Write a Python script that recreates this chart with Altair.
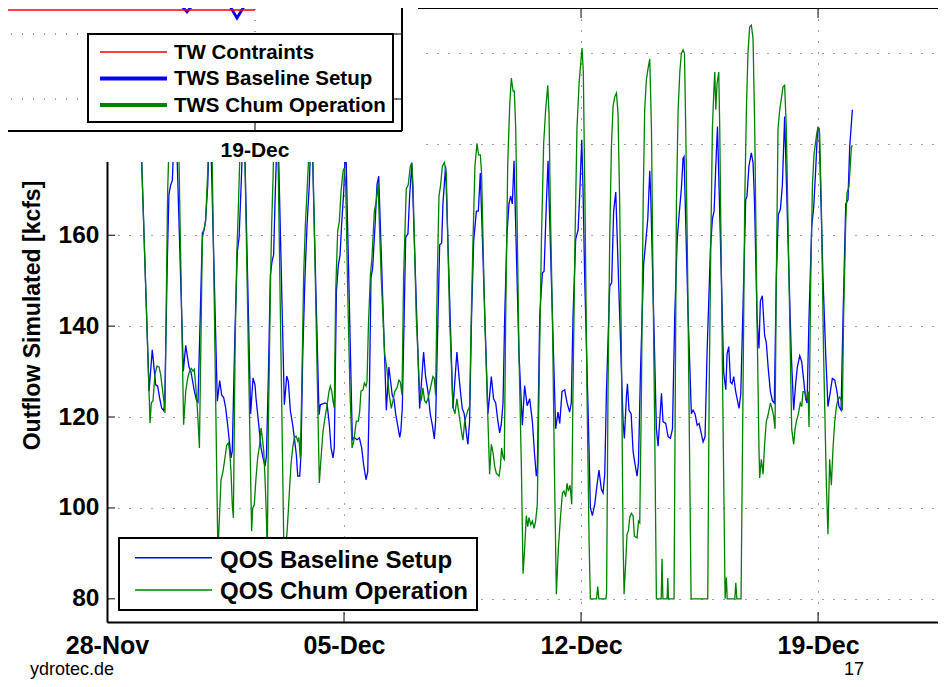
import altair as alt
import pandas as pd

FONT = "Liberation Sans"
START = pd.Timestamp("2012-11-28 00:00:00")

# (hours after 28-Nov 00:00, outflow in kcfs)
baseline_points = [
    (24.3, 179.0), (29.8, 125.7), (32.1, 134.8), (34.5, 127.1), (35.9, 126.8), (37.3, 124.2), (38.7, 122.0), (40.2, 121.4), (40.9, 123.1), (42.8, 155.0), (43.9, 169.0), (45.1, 171.0), (46.3, 172.0), (48.5, 190.0),
    (54.1, 130.1), (55.8, 135.8), (58.1, 131.0), (59.5, 130.0), (61.9, 125.7), (63.3, 123.8), (64.5, 123.3), (67.6, 160.5), (68.8, 161.2), (69.9, 163.4), (71.4, 171.0), (73.0, 188.0),
    (78.2, 123.5), (79.9, 128.0), (81.3, 124.8), (82.7, 124.3), (84.1, 122.0), (85.5, 118.3), (87.0, 113.9), (87.9, 111.0), (88.8, 112.5), (90.7, 138.9), (92.4, 156.5), (93.6, 159.4), (95.0, 170.4), (97.0, 188.0),
    (101.8, 120.7), (103.5, 128.6), (104.9, 127.1), (105.6, 124.2), (107.3, 119.1), (109.2, 113.2), (110.6, 111.0), (112.0, 109.2), (113.0, 111.4), (114.4, 129.3), (115.8, 151.3), (117.0, 154.3), (118.1, 155.7), (119.3, 169.7), (121.0, 186.0),
    (125.7, 122.7), (127.4, 129.0), (128.5, 127.9), (130.0, 121.3), (131.6, 118.3), (132.8, 115.4), (134.2, 111.7), (135.2, 107.0), (136.6, 107.0), (137.5, 111.7), (138.7, 133.0), (140.3, 150.6), (141.8, 162.3), (143.4, 171.2), (145.0, 186.0),
    (150.3, 120.5), (151.2, 122.7), (152.9, 122.9), (154.5, 123.1), (156.0, 122.9), (157.6, 118.3), (158.8, 113.2), (160.2, 111.0), (161.1, 113.2), (162.6, 147.7), (164.0, 153.5), (165.2, 155.7), (166.3, 162.3), (167.8, 169.7), (169.2, 181.0),
    (173.9, 115.0), (175.3, 115.5), (177.2, 115.0), (178.9, 115.4), (180.5, 113.2), (181.9, 109.5), (183.6, 106.2), (184.8, 108.0), (186.0, 125.7), (187.1, 150.6), (188.3, 152.8), (190.0, 162.3), (191.4, 171.2), (192.6, 173.0),
    (198.0, 121.5), (199.8, 131.0), (202.2, 124.8), (203.4, 124.0), (204.6, 120.7), (206.0, 118.2), (207.5, 115.5), (208.3, 117.0), (209.3, 122.0), (210.2, 135.5), (211.7, 159.5), (213.3, 160.3), (214.5, 168.6), (216.1, 175.8),
    (221.6, 121.9), (224.4, 134.3), (225.8, 128.9), (227.5, 125.6), (229.1, 120.7), (230.6, 118.2), (232.0, 115.2), (232.9, 119.0), (234.6, 142.1), (235.8, 157.9), (237.2, 158.3), (238.1, 166.9), (240.0, 175.2),
    (245.2, 121.9), (248.0, 134.3), (249.5, 128.9), (250.7, 125.0), (251.8, 121.9), (253.2, 120.7), (254.7, 116.5), (255.8, 114.0), (257.0, 119.0), (258.4, 142.1), (259.9, 158.7), (261.8, 165.3), (263.2, 165.3), (264.6, 173.7),
    (270.0, 120.7), (272.4, 128.9), (274.0, 124.0), (275.5, 123.1), (277.1, 119.0), (278.3, 116.5), (279.5, 118.5), (280.7, 123.1), (281.9, 142.1), (283.5, 160.3), (284.9, 166.9), (286.1, 168.6), (287.3, 166.9), (288.5, 176.4),
    (290.1, 157.0), (292.0, 133.9), (294.4, 118.2), (296.0, 126.9), (297.8, 122.5), (299.6, 124.0), (301.5, 119.0), (303.1, 111.6), (304.3, 107.0), (305.0, 108.5), (306.7, 142.1), (308.6, 151.7), (309.8, 152.1), (311.4, 166.9), (312.6, 176.4),
    (315.7, 142.1), (318.0, 117.4), (319.7, 121.1), (320.9, 118.6), (322.5, 125.6), (324.4, 126.0), (326.1, 123.1), (327.9, 121.1), (329.1, 123.1), (330.3, 142.1), (332.2, 159.1), (333.9, 161.2), (335.0, 168.6), (336.5, 181.0),
    (337.4, 170.2), (338.6, 150.4), (341.0, 121.5), (342.6, 100.0), (344.0, 98.3), (345.7, 100.8), (347.3, 105.0), (348.7, 108.3), (350.4, 104.1), (351.6, 103.3), (352.8, 107.4), (354.0, 125.6), (356.3, 148.8), (357.7, 149.6), (359.1, 165.3), (360.6, 169.5),
    (363.4, 142.1), (365.8, 119.0), (366.7, 115.3), (368.2, 124.8), (368.9, 127.3), (370.0, 121.5), (371.5, 120.7), (372.9, 112.4), (374.3, 109.5), (375.7, 107.0), (376.7, 109.9), (378.1, 129.8), (380.4, 153.7), (381.9, 158.7), (383.3, 163.6), (384.7, 174.2),
    (385.4, 168.6), (387.5, 142.1), (389.4, 117.4), (390.6, 113.6), (393.0, 125.2), (394.1, 119.0), (396.0, 118.6), (397.7, 115.7), (399.3, 115.3), (400.8, 117.4), (402.4, 142.1), (404.1, 158.7), (405.5, 164.5), (407.1, 170.2), (408.3, 176.9), (409.0, 177.3),
    (411.9, 142.1), (414.2, 120.7), (415.4, 121.5), (416.8, 120.7), (418.3, 118.2), (419.7, 118.6), (421.1, 116.5), (422.5, 114.5), (423.9, 115.7), (425.3, 133.9), (427.7, 157.0), (429.1, 163.6), (430.3, 165.3), (431.5, 175.2), (432.7, 183.9),
    (435.5, 150.4), (437.1, 129.8), (438.6, 126.0), (439.5, 133.9), (440.7, 135.5), (441.9, 127.7), (443.0, 127.3), (444.2, 128.9), (445.6, 125.6), (448.0, 121.9), (449.2, 125.0), (451.3, 150.4), (452.7, 167.8), (453.6, 168.6), (455.0, 175.2), (456.7, 178.1), (457.9, 176.0),
    (459.0, 166.9), (460.7, 142.1), (462.1, 135.1), (463.1, 145.5), (464.5, 146.7), (466.1, 138.0), (467.3, 136.4), (468.7, 130.6), (470.2, 125.6), (471.6, 123.6), (473.0, 123.1), (474.4, 150.4), (475.8, 164.5), (477.3, 165.7), (478.7, 171.1), (480.3, 186.1),
    (482.7, 158.7), (485.0, 133.9), (486.7, 121.5), (488.1, 127.3), (489.3, 131.0), (491.0, 133.5), (492.4, 132.2), (493.8, 128.1), (495.2, 124.0), (496.2, 123.1), (497.6, 142.1), (499.5, 162.0), (500.9, 166.1), (502.3, 174.4), (503.7, 183.5), (504.7, 183.5),
    (507.5, 150.4), (509.4, 133.9), (511.0, 122.3), (512.7, 125.6), (514.1, 128.5), (515.8, 128.1), (517.4, 125.6), (518.8, 122.3), (520.3, 121.5), (521.7, 142.1), (523.6, 166.9), (525.2, 167.8), (526.4, 179.3), (528.3, 187.6),
]

chum_points = [
    (24.3, 179.0), (30.5, 118.7), (31.4, 123.1), (32.6, 123.6), (34.0, 129.4), (35.4, 131.2), (36.9, 131.0), (38.0, 129.4), (39.2, 126.4), (40.6, 122.7), (41.1, 120.9), (42.1, 147.7), (43.0, 169.7), (45.0, 192.0), (50.5, 186.0),
    (54.3, 118.3), (55.8, 125.7), (57.2, 128.6), (58.6, 130.1), (59.8, 130.7), (61.0, 130.1), (61.9, 130.5), (62.8, 127.1), (63.8, 123.1), (64.7, 118.3), (65.5, 113.2), (66.4, 133.0), (67.6, 159.4), (68.8, 161.2), (69.9, 163.1), (71.4, 174.1), (73.0, 190.0), (74.5, 178.0),
    (78.6, 90.0), (80.8, 106.1), (82.2, 108.0), (83.6, 111.0), (84.8, 113.8), (86.0, 114.3), (86.9, 112.5), (87.9, 108.0), (88.8, 100.7), (89.6, 97.8), (90.7, 133.0), (91.9, 155.0), (93.1, 166.0), (94.0, 175.6), (95.5, 190.0), (97.8, 176.0),
    (102.5, 94.9), (103.3, 100.0), (104.4, 100.7), (105.6, 106.6), (106.8, 111.0), (108.2, 113.9), (109.2, 117.6), (110.1, 115.4), (111.1, 112.5), (112.0, 106.6), (113.0, 97.8), (113.6, 89.0), (114.4, 118.3), (115.8, 147.7), (116.7, 162.3), (117.7, 172.6), (119.0, 192.0), (121.2, 178.0),
    (125.6, 86.0), (128.0, 96.5), (129.3, 103.7), (130.4, 109.5), (131.6, 113.2), (132.8, 115.4), (134.0, 115.8), (135.2, 114.7), (136.0, 115.5), (137.0, 111.0), (138.0, 125.7), (139.4, 151.3), (140.6, 162.3), (141.8, 169.7), (142.7, 175.6), (144.0, 188.0), (146.0, 176.0),
    (150.5, 105.5), (151.7, 111.0), (153.1, 116.9), (154.5, 119.8), (156.0, 122.7), (157.4, 125.7), (158.3, 126.8), (159.3, 125.7), (160.2, 123.5), (161.1, 122.0), (162.1, 147.7), (163.5, 160.9), (164.7, 163.1), (165.9, 169.7), (167.3, 174.1), (168.2, 174.8), (169.2, 171.2),
    (170.6, 147.7), (172.2, 125.7), (173.7, 113.2), (174.9, 114.7), (175.8, 116.9), (176.7, 119.1), (178.2, 119.1), (179.1, 121.3), (180.0, 125.7), (181.5, 126.0), (182.4, 127.5), (183.6, 126.8), (184.3, 127.9), (185.3, 140.3), (186.7, 151.3), (187.8, 155.0), (189.5, 165.3), (190.9, 167.5), (192.1, 171.5),
    (194.4, 150.4), (196.8, 133.9), (198.4, 130.6), (200.0, 125.0), (201.5, 121.9), (202.7, 123.6), (203.9, 125.6), (205.5, 126.4), (206.9, 128.1), (207.9, 127.7), (209.1, 124.8), (210.2, 150.4), (212.1, 170.2), (213.5, 171.1), (215.0, 175.2), (216.1, 176.0), (216.9, 171.1),
    (219.2, 142.1), (221.6, 125.6), (222.8, 123.6), (223.9, 126.4), (225.1, 123.6), (226.3, 123.1), (227.5, 124.0), (228.7, 125.6), (231.0, 128.9), (232.0, 128.5), (232.9, 124.8), (234.1, 150.4), (235.3, 168.6), (236.5, 171.1), (237.7, 175.2), (239.1, 176.0), (240.5, 173.6),
    (242.8, 142.1), (245.2, 122.3), (246.6, 120.7), (248.0, 124.0), (249.9, 119.8), (251.4, 116.5), (252.3, 114.9), (253.5, 119.0), (255.8, 121.5), (257.0, 122.3), (258.2, 142.1), (259.4, 158.7), (260.8, 175.2), (262.2, 180.2), (263.4, 177.7), (264.6, 177.7), (265.5, 173.6),
    (267.7, 142.1), (271.2, 107.4), (272.4, 114.0), (273.6, 112.2), (274.8, 109.1), (276.0, 107.6), (277.9, 107.0), (278.8, 109.1), (279.7, 113.2), (280.7, 111.2), (281.6, 110.7), (282.6, 142.1), (284.0, 175.2), (285.4, 188.4), (286.6, 194.6), (287.8, 191.7), (288.7, 191.7), (289.7, 183.5),
    (290.9, 158.7), (292.0, 133.9), (293.7, 109.1), (294.9, 85.5), (296.0, 90.9), (297.2, 98.3), (298.2, 95.9), (299.1, 97.9), (300.3, 96.3), (301.5, 97.1), (302.7, 95.5), (303.8, 97.1), (305.0, 100.8), (306.2, 125.6), (307.9, 158.7), (309.5, 180.2), (310.9, 187.6), (312.4, 193.0), (313.3, 186.8), (314.2, 166.9),
    (315.7, 142.1), (317.1, 109.1), (318.5, 81.0), (319.9, 90.9), (321.3, 97.5), (322.8, 103.3), (323.9, 103.7), (325.1, 102.5), (326.1, 105.4), (327.0, 103.7), (328.2, 105.0), (329.4, 100.8), (330.3, 125.6), (331.7, 158.7), (333.1, 183.5), (334.6, 193.4), (335.7, 197.5), (336.7, 201.2), (337.6, 195.9), (338.8, 166.9), (340.2, 125.6), (341.7, 92.6), (342.6, 80.0),
    (347.0, 80.0), (347.8, 82.7), (348.6, 80.0), (353.6, 80.0), (354.1, 81.2), (355.1, 125.6), (356.3, 158.7), (357.5, 179.3), (358.7, 188.4), (359.9, 190.5), (361.1, 191.3), (362.2, 186.8), (363.4, 166.9), (364.6, 133.9), (365.8, 92.6), (366.5, 81.0),
    (367.7, 88.4), (368.6, 94.2), (369.6, 95.0), (370.5, 97.9), (371.7, 98.8), (372.9, 98.3), (373.8, 93.8), (375.7, 93.4), (376.7, 97.1), (377.6, 96.7), (378.8, 125.6), (380.0, 166.9), (381.1, 187.6), (382.3, 194.2), (383.5, 196.7), (384.7, 198.8), (385.9, 183.5), (387.0, 150.4), (388.2, 117.4), (389.4, 80.0),
    (392.8, 80.0), (393.4, 88.8), (394.0, 80.0), (397.0, 80.0), (397.5, 84.6), (398.0, 80.0), (401.9, 80.0), (402.8, 125.6), (403.6, 166.9), (404.8, 187.6), (406.0, 195.9), (407.1, 200.0), (408.3, 200.8), (409.3, 200.0), (410.2, 183.5), (411.6, 150.4), (413.0, 109.1), (414.0, 80.0),
    (425.8, 80.0), (426.8, 125.6), (428.0, 158.7), (429.1, 183.5), (430.1, 191.7), (430.8, 195.9), (431.5, 187.6), (432.4, 193.4), (433.6, 195.9), (434.3, 183.5), (435.5, 150.4), (436.7, 117.4), (438.1, 80.0),
    (439.0, 84.7), (439.6, 80.0), (445.0, 80.0), (445.7, 83.5), (446.4, 80.0), (449.4, 80.0), (450.8, 125.6), (452.0, 166.9), (453.2, 187.6), (454.3, 200.0), (455.5, 205.8), (456.7, 206.2), (457.9, 203.3), (459.1, 183.5), (460.7, 142.1), (462.1, 113.2), (462.6, 106.6), (463.8, 110.7), (465.0, 107.4), (466.1, 114.0), (467.3, 119.0), (468.7, 120.7), (470.2, 123.1), (471.6, 121.5), (472.5, 120.2), (473.5, 117.4),
    (474.4, 150.4), (475.6, 183.5), (476.8, 187.6), (478.0, 190.1), (479.1, 192.6), (480.3, 193.0), (481.5, 183.5), (483.4, 150.4), (485.3, 117.4), (486.7, 114.0), (487.7, 117.4), (488.6, 119.0), (490.0, 120.7), (491.4, 123.1), (492.4, 122.3), (493.3, 125.6), (494.5, 125.6), (495.7, 124.0), (496.9, 125.6), (497.6, 117.8),
    (498.8, 150.4), (500.0, 171.1), (501.1, 177.7), (502.8, 181.8), (504.0, 183.9), (505.1, 182.6), (506.3, 166.9), (507.9, 133.9), (509.9, 105.0), (511.0, 94.2), (512.2, 110.7), (513.4, 105.0), (514.6, 113.2), (515.8, 119.0), (517.0, 122.3), (518.1, 124.0), (519.3, 124.4), (520.5, 123.6), (521.2, 121.5),
    (522.1, 142.1), (523.6, 162.8), (524.5, 169.4), (525.9, 170.7), (527.6, 179.3), (528.3, 179.8),
]

series_names = ["QOS Baseline Setup", "QOS Chum Operation"]
series_colors = ["#0000ff", "#008000"]
x_tick_dates = ["2012-11-28 00:00", "2012-12-05 00:00", "2012-12-12 00:00", "2012-12-19 00:00"]
x_domain = ["2012-11-28 00:00", "2012-12-22 13:00"]
y_tick_values = [80, 100, 120, 140, 160, 180, 200]
y_domain = [74.9, 210.0]
y_title = "Outflow Simulated [kcfs]"

# partly hidden tailwater panel in the upper left
inset_names = ["TW Contraints", "TWS Baseline Setup", "TWS Chum Operation"]
inset_colors = ["#ff0000", "#0000ff", "#008000"]
inset_line_widths = [1.5, 4.0, 4.0]
inset_x_domain = ["2012-12-13 19:06", "2012-12-22 00:00"]
inset_y_domain = [7.54, 17.0]
inset_grid_levels = [10, 15]
inset_tick_dates = ["2012-12-19 00:00"]
tw_constraint = [("2012-12-13 12:00", 16.85), ("2012-12-19 00:00", 16.85)]
tws_baseline = [("2012-12-13 12:00", 17.6), ("2012-12-17 09:30", 17.6), ("2012-12-17 14:40", 16.7),
                ("2012-12-17 19:30", 17.6), ("2012-12-18 10:00", 17.6), ("2012-12-18 15:10", 16.23),
                ("2012-12-18 20:30", 17.6), ("2012-12-19 00:00", 17.6)]
tws_chum = [("2012-12-13 12:00", 18.3), ("2012-12-19 00:00", 18.3)]

footer_site = "ydrotec.de"
footer_page = "17"

PLOT_W, PLOT_H = 831, 614
GRID_DASH = [1, 10]
GRID_COLOR = "#404040"


def dt(s):
    t = pd.Timestamp(s)
    return alt.DateTime(year=t.year, month=t.month, date=t.day, hours=t.hour, minutes=t.minute)


def iso(s):
    return pd.Timestamp(s).strftime("%Y-%m-%dT%H:%M:%S")


def series_frame(points, name):
    return pd.DataFrame({
        "time": [(START + pd.Timedelta(hours=h)).strftime("%Y-%m-%dT%H:%M:%S") for h, _ in points],
        "kcfs": [v for _, v in points],
        "series": name,
    })


# ---------------- main chart ----------------
x_scale = alt.Scale(domain=[dt(x_domain[0]), dt(x_domain[1])])
y_scale = alt.Scale(domain=y_domain, nice=False, zero=False)
x_axis = alt.Axis(values=[dt(s) for s in x_tick_dates], format="%d-%b", title=None,
                  labelFont=FONT, labelFontSize=25, labelFontWeight="bold", labelColor="black",
                  labelPadding=11, labelFlush=False, labelOverlap=False, ticks=False,
                  domainColor="black", domainWidth=2, grid=True, gridColor=GRID_COLOR,
                  gridDash=GRID_DASH, gridWidth=1, zindex=0)
y_axis = alt.Axis(values=y_tick_values, title=y_title, titleFont=FONT, titleFontSize=23,
                  titleFontWeight="bold", titleColor="black", titlePadding=14,
                  labelFont=FONT, labelFontSize=24.5, labelFontWeight="bold", labelColor="black",
                  labelPadding=8, labelOverlap=False, ticks=False, domainColor="black", domainWidth=2,
                  grid=True, gridColor=GRID_COLOR, gridDash=GRID_DASH, gridWidth=1, zindex=0)
X = alt.X("time:T", scale=x_scale, axis=x_axis)
Y = alt.Y("kcfs:Q", scale=y_scale, axis=y_axis)
C = alt.Color("series:N", scale=alt.Scale(domain=series_names, range=series_colors), legend=None)

base_line = alt.Chart(series_frame(baseline_points, series_names[0])).mark_line(strokeWidth=1.3).encode(X, Y, C)
chum_line = alt.Chart(series_frame(chum_points, series_names[1])).mark_line(strokeWidth=1.3).encode(X, Y, C)
top_border = alt.Chart(pd.DataFrame({"kcfs": [y_domain[1]]})).mark_rule(color="black", strokeWidth=2).encode(y=Y)
tick_df = pd.DataFrame({"time": [iso(s) for s in x_tick_dates[1:]]})
bottom_ticks = alt.Chart(tick_df).mark_rule(color="black").encode(x=X, y=alt.value(PLOT_H), y2=alt.value(PLOT_H - 10))
top_ticks = alt.Chart(tick_df).mark_rule(color="black").encode(x=X, y=alt.value(0), y2=alt.value(10))
left_ticks = alt.Chart(pd.DataFrame({"kcfs": y_tick_values})).mark_rule(color="black").encode(
    y=Y, x=alt.value(0), x2=alt.value(8))

main = alt.layer(top_border, base_line, chum_line, bottom_ticks, top_ticks, left_ticks)

# ---------------- overlay: inset panel, legends, footer ----------------
one = pd.DataFrame({"a": [0]})
panel = alt.Chart(one).mark_rect(color="white").encode(
    x=alt.value(-107), x2=alt.value(311), y=alt.value(-8), y2=alt.value(154))

IX = alt.X("time:T", scale=alt.Scale(domain=[dt(s) for s in inset_x_domain], range=[-107, 295]), axis=None)
IY = alt.Y("level:Q", scale=alt.Scale(domain=inset_y_domain, range=[123, 0], nice=False, zero=False), axis=None)

igrid_h = alt.Chart(pd.DataFrame({"time": iso(inset_x_domain[0]), "time_end": iso(inset_x_domain[1]),
                                  "level": inset_grid_levels})).mark_rule(
    color=GRID_COLOR, strokeDash=GRID_DASH).encode(x=IX, x2="time_end:T", y=IY)
igrid_v = alt.Chart(pd.DataFrame({"time": [iso(s) for s in inset_tick_dates], "level": inset_y_domain[0],
                                  "level_end": 17.6})).mark_rule(
    color=GRID_COLOR, strokeDash=GRID_DASH).encode(x=IX, y=IY, y2="level_end:Q")


def inset_frame(points, name):
    return pd.DataFrame({"time": [iso(t) for t, _ in points], "level": [v for _, v in points], "name": name})


IC = alt.Color("name:N", scale=alt.Scale(domain=inset_names, range=inset_colors), legend=None)
IW = alt.StrokeWidth("name:N", scale=alt.Scale(domain=inset_names, range=inset_line_widths), legend=None)
i_chum = alt.Chart(inset_frame(tws_chum, inset_names[2])).mark_line(strokeCap="round").encode(IX, IY, IC, IW)
i_base = alt.Chart(inset_frame(tws_baseline, inset_names[1])).mark_line(strokeCap="round").encode(IX, IY, IC, IW)
i_tw = alt.Chart(inset_frame(tw_constraint, inset_names[0])).mark_line().encode(IX, IY, IC, IW)

i_right = alt.Chart(pd.DataFrame({"time": [iso(inset_x_domain[1])], "level": [inset_y_domain[0]],
                                  "level_end": [17.8]})).mark_rule(color="black", strokeWidth=2).encode(
    x=IX, y=IY, y2="level_end:Q")
i_bottom = alt.Chart(pd.DataFrame({"time": [iso(inset_x_domain[0])], "time_end": [iso(inset_x_domain[1])],
                                   "level": [inset_y_domain[0]]})).mark_rule(color="black", strokeWidth=2).encode(
    x=IX, x2="time_end:T", y=IY)
i_yticks = alt.Chart(pd.DataFrame({"level": inset_grid_levels})).mark_rule(color="black").encode(
    y=IY, x=alt.value(287), x2=alt.value(295))
i_xtick_df = pd.DataFrame({"time": [iso(s) for s in inset_tick_dates]})
i_xticks = alt.Chart(i_xtick_df).mark_rule(color="black").encode(x=IX, y=alt.value(123), y2=alt.value(114))
i_xlabel = alt.Chart(i_xtick_df).mark_text(font=FONT, fontSize=21, fontWeight="bold", baseline="middle",
                                           color="black").encode(
    x=IX, y=alt.value(143), text=alt.Text("time:T", format="%d-%b"))

# legend of the tailwater panel
tw_leg = pd.DataFrame({"label": inset_names, "c": inset_colors, "w": inset_line_widths, "row": [0, 1, 2]})
tw_box = alt.Chart(one).mark_rect(fill="white", stroke="black", strokeWidth=2).encode(
    x=alt.value(-19), x2=alt.value(286), y=alt.value(26), y2=alt.value(114))
tw_sym = alt.Chart(tw_leg).transform_calculate(sy="44 + datum.row * 26.5").mark_rule().encode(
    x=alt.value(-7), x2=alt.value(60), y=alt.Y("sy:Q", scale=None, axis=None),
    color=alt.Color("c:N", scale=None), strokeWidth=alt.StrokeWidth("w:Q", scale=None))
tw_txt = alt.Chart(tw_leg).transform_calculate(ty="50.5 + datum.row * 26.7").mark_text(
    font=FONT, fontSize=20.5, fontWeight="bold", align="left", baseline="alphabetic", color="black").encode(
    x=alt.value(67), y=alt.Y("ty:Q", scale=None, axis=None), text="label:N")

# legend of the outflow chart
qos_leg = pd.DataFrame({"label": series_names, "c": series_colors, "row": [0, 1]})
qos_box = alt.Chart(one).mark_rect(fill="white", stroke="black", strokeWidth=2).encode(
    x=alt.value(12), x2=alt.value(370), y=alt.value(530), y2=alt.value(602))
qos_sym = alt.Chart(qos_leg).transform_calculate(sy="549.7 + datum.row * 32.3").mark_rule(strokeWidth=1.4).encode(
    x=alt.value(28), x2=alt.value(105), y=alt.Y("sy:Q", scale=None, axis=None), color=alt.Color("c:N", scale=None))
qos_txt = alt.Chart(qos_leg).transform_calculate(ty="560 + datum.row * 31").mark_text(
    font=FONT, fontSize=24, fontWeight="bold", align="left", baseline="alphabetic", color="black").encode(
    x=alt.value(113), y=alt.Y("ty:Q", scale=None, axis=None), text="label:N")

# slide footer (kept small so it stays clear of the date labels and inside the page)
foot_l = alt.Chart(pd.DataFrame({"t": [footer_site]})).mark_text(
    font=FONT, fontSize=18, align="center", baseline="alphabetic", color="black").encode(
    x=alt.value(-35), y=alt.value(666.5), text="t:N")
foot_r = alt.Chart(pd.DataFrame({"t": [footer_page]})).mark_text(
    font=FONT, fontSize=18, align="center", baseline="alphabetic", color="black").encode(
    x=alt.value(747), y=alt.value(666.5), text="t:N")

overlay = alt.layer(panel, igrid_h, igrid_v, i_chum, i_base, i_tw, i_right, i_bottom, i_yticks, i_xticks,
                    i_xlabel, tw_box, tw_sym, tw_txt, qos_box, qos_sym, qos_txt, foot_l, foot_r)

chart = alt.layer(main, overlay).resolve_scale(
    x="independent", y="independent", color="independent", strokeWidth="independent"
).properties(
    width=PLOT_W, height=PLOT_H,
    autosize=alt.AutoSizeParams(type="none"),
    padding={"left": 99, "top": 0, "right": 0, "bottom": 57},
).configure_view(stroke=None).configure(background="white", font=FONT)

chart.save("out.html", embed_options={"renderer": "svg", "actions": False})
